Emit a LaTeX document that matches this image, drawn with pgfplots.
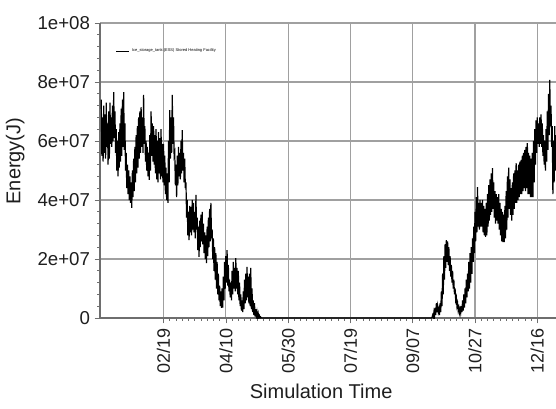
\documentclass[border=0pt]{standalone}
\usepackage{pgfplots}
\pgfplotsset{compat=1.18}
\usepackage{fontspec}
\setmainfont{Liberation Sans}
\definecolor{gridgray}{RGB}{160,160,160}
\definecolor{axisgray}{RGB}{110,110,110}
\definecolor{txt}{RGB}{30,30,30}
\begin{document}
\begin{tikzpicture}
\useasboundingbox (-75pt,-67.5pt) rectangle (342pt,238.5pt);
\begin{axis}[
    at={(0,0)}, anchor=south west,
    width=342pt, height=221.25pt, scale only axis,
    xmin=-1, xmax=365, ymin=0, ymax=10,
    axis lines=left,
    axis line style={-, draw=axisgray, line width=0.8pt},
    xtick={50,100,...,350},
    xticklabels={02/19,04/10,05/30,07/19,09/07,10/27,12/16},
    ytick={0,2,...,10},
    yticklabels={0,2e+07,4e+07,6e+07,8e+07,1e+08},
    x tick label style={rotate=90, anchor=east, font=\fontsize{13.5}{14}\selectfont, text=txt},
    y tick label style={font=\fontsize{14}{14}\selectfont, text=txt},
    tick align=outside,
    major tick length=4pt, minor tick length=2pt,
    minor x tick num=9, minor y tick num=4,
    tick style={axisgray, line width=0.5pt},
    grid=major,
    major grid style={gridgray, line width=0.9pt},
    xlabel={Simulation Time}, ylabel={Energy(J)},
    label style={font=\fontsize{15}{15}\selectfont, text=txt},
    xlabel style={at={(axis description cs:0.485,-0.25)}, anchor=center},
    ylabel style={at={(axis description cs:-0.186,0.532)}, anchor=center},
    legend style={at={(axis description cs:0.035,0.905)}, anchor=west, draw=none, fill=none,
        font=\fontsize{3}{3}\selectfont, inner sep=0pt},
    legend image code/.code={\draw[#1, line width=0.3pt] (0pt,0pt) -- (9.5pt,0pt);},
]
\addplot[black, line width=0.9pt] coordinates {
(0,7.4)(0.5,5.5)(1,6.8)(1.5,5.3)(2,7.2)(2.5,5.6)(3,6.9)(3.5,5.4)(4,7.3)(4.5,5.8)
(5,6.6)(5.5,5.2)(6,7.0)(6.5,5.4)(7,7.3)(7.5,5.9)(8,6.8)(8.5,5.8)(9,7.2)(9.5,6.0)
(10,7.66)(10.5,6.1)(11,7.0)(11.5,5.6)(12,6.4)(12.5,5.0)(13,6.0)(13.5,4.8)(14,6.3)(14.5,5.1)
(15,6.6)(15.5,5.3)(16,7.1)(16.5,5.5)(17,7.4)(17.5,5.8)(18,7.66)(18.5,5.7)(19,6.6)(19.5,5.0)
(20,5.6)(20.5,4.4)(21,5.2)(21.5,4.2)(22,5.0)(22.5,4.0)(23,4.8)(23.5,3.9)(24,4.6)(24.5,3.73)
(25,5.0)(25.5,4.1)(26,5.4)(26.5,4.3)(27,5.8)(27.5,4.6)(28,6.2)(28.5,4.9)(29,6.5)(29.5,5.1)
(30,6.8)(30.5,5.4)(31,7.0)(31.5,5.6)(32,7.15)(32.5,5.8)(33,6.8)(33.5,5.6)(34,7.56)(34.5,5.9)
(35,6.5)(35.5,5.3)(36,6.0)(36.5,5.0)(37,5.8)(37.5,4.8)(38,5.6)(38.5,4.68)(39,6.2)(39.5,5.0)
(40,7.0)(40.5,5.5)(41,6.6)(41.5,5.3)(42,6.5)(42.5,5.2)(43,6.2)(43.5,4.9)(44,6.4)(44.5,4.7)
(45,6.0)(45.5,4.6)(46,6.3)(46.5,4.9)(47,6.1)(47.5,4.7)(48,6.4)(48.5,4.8)(49,5.9)(49.5,4.6)
(50,5.9)(50.5,4.5)(51,5.5)(51.5,4.2)(52,5.1)(52.5,4.0)(53,4.9)(53.5,3.9)(54,6.0)(54.5,4.6)
(55,7.05)(55.5,5.4)(56,6.8)(56.5,5.6)(57,7.56)(57.5,5.9)(58,6.8)(58.5,5.5)(59,5.6)(59.5,4.5)
(60,5.2)(60.5,4.1)(61,5.5)(61.5,4.5)(62,5.8)(62.5,4.8)(63,5.6)(63.5,4.7)(64,6.0)(64.5,4.9)
(65,6.37)(65.5,5.0)(66,5.6)(66.5,4.6)(67,5.4)(67.5,4.4)(68,4.6)(68.5,3.4)(69,4.0)(69.5,2.8)
(70,3.6)(70.5,2.64)(71,3.8)(71.5,2.9)(72,3.76)(72.5,2.8)(73,4.0)(73.5,3.0)(74,3.9)(74.5,2.9)
(75,3.6)(75.5,2.7)(76,4.17)(76.5,3.0)(77,3.4)(77.5,2.3)(78,3.1)(78.5,2.07)(79,3.3)(79.5,2.4)
(80,3.5)(80.5,2.6)(81,3.6)(81.5,2.5)(82,3.2)(82.5,2.2)(83,2.9)(83.5,2.0)(84,2.8)(84.5,1.86)
(85,3.1)(85.5,2.1)(86,3.4)(86.5,2.4)(87,3.7)(87.5,2.6)(88,3.9)(88.5,2.7)(89,3.0)(89.5,2.0)
(90,2.7)(90.5,1.6)(91,2.4)(91.5,1.3)(92,2.2)(92.5,1.0)(93,1.9)(93.5,0.8)(94,1.5)(94.5,0.6)
(95,1.1)(95.5,0.4)(96,0.9)(96.5,0.34)(97,1.0)(97.5,0.35)(98,1.4)(98.5,0.6)(99,1.9)(99.5,1.0)
(100,2.1)(100.5,1.2)(101,2.3)(101.5,1.1)(102,1.8)(102.5,0.9)(103,1.3)(103.5,0.7)(104,1.2)(104.5,0.6)
(105,1.6)(105.5,0.8)(106,1.9)(106.5,1.0)(107,1.7)(107.5,0.9)(108,2.03)(108.5,1.0)(109,1.7)(109.5,0.8)
(110,1.6)(110.5,0.6)(111,1.2)(111.5,0.4)(112,0.8)(112.5,0.25)(113,0.6)(113.5,0.2)(114,0.9)(114.5,0.3)
(115,1.3)(115.5,0.5)(116,1.5)(116.5,0.6)(117,1.73)(117.5,0.7)(118,1.4)(118.5,0.5)(119,1.5)(119.5,0.4)
(120,1.7)(120.5,0.3)(121,1.0)(121.5,0.2)(122,0.6)(122.5,0.1)(123,0.5)(123.5,0.05)(124,0.3)(124.5,0.05)
(125,0.2)(125.5,0.02)(126,0.15)(126.5,0.02)(127,0.08)(127.5,0)(128,0.03)(128.5,0)
(265,0)(265.5,0.02)(266,0.1)(266.5,0.02)(267,0.2)(267.5,0.05)(268,0.35)(268.5,0.1)(269,0.5)(269.5,0.2)
(270,0.4)(270.5,0.2)(271,0.3)(271.5,0.1)(272,0.5)(272.5,0.2)(273,0.9)(273.5,0.4)(274,1.5)(274.5,0.8)
(275,2.1)(275.5,1.3)(276,2.5)(276.5,1.7)(277,2.64)(277.5,1.9)(278,2.6)(278.5,1.8)(279,2.4)(279.5,1.6)
(280,2.1)(280.5,1.4)(281,1.8)(281.5,1.2)(282,1.6)(282.5,1.0)(283,1.3)(283.5,0.8)(284,1.0)(284.5,0.6)
(285,0.7)(285.5,0.4)(286,0.5)(286.5,0.25)(287,0.35)(287.5,0.17)(288,0.3)(288.5,0.17)(289,0.4)(289.5,0.2)
(290,0.6)(290.5,0.25)(291,0.8)(291.5,0.35)(292,1.0)(292.5,0.5)(293,1.3)(293.5,0.7)(294,1.5)(294.5,0.9)
(295,1.9)(295.5,1.0)(296,2.2)(296.5,1.2)(297,2.4)(297.5,1.5)(298,2.7)(298.5,1.9)(299,3.1)(299.5,2.2)
(300,3.6)(300.5,2.6)(301,4.1)(301.5,2.9)(302,4.44)(302.5,3.1)(303,3.9)(303.5,3.0)(304,4.0)(304.5,3.1)
(305,3.9)(305.5,3.1)(306,4.0)(306.5,2.9)(307,3.8)(307.5,2.8)(308,3.7)(308.5,2.75)(309,3.9)(309.5,2.8)
(310,4.2)(310.5,3.1)(311,4.5)(311.5,3.3)(312,4.7)(312.5,3.5)(313,4.9)(313.5,3.6)(314,5.08)(314.5,3.7)
(315,4.6)(315.5,3.4)(316,4.3)(316.5,3.2)(317,4.2)(317.5,3.3)(318,4.1)(318.5,3.2)(319,4.2)(319.5,3.0)
(320,3.9)(320.5,2.8)(321,3.7)(321.5,2.6)(322,3.6)(322.5,2.57)(323,3.5)(323.5,2.57)(324,3.8)(324.5,2.7)
(325,4.3)(325.5,3.0)(326,4.8)(326.5,3.4)(327,5.1)(327.5,3.7)(328,4.7)(328.5,3.5)(329,4.4)(329.5,3.3)
(330,4.6)(330.5,3.5)(331,4.9)(331.5,3.7)(332,5.0)(332.5,3.9)(333,5.25)(333.5,3.9)(334,5.0)(334.5,4.0)
(335,5.2)(335.5,4.1)(336,5.3)(336.5,4.2)(337,5.36)(337.5,4.2)(338,5.5)(338.5,4.3)(339,5.6)(339.5,4.4)
(340,5.7)(340.5,4.3)(341,5.8)(341.5,4.4)(342,5.93)(342.5,4.2)(343,5.6)(343.5,4.2)(344,5.5)(344.5,4.1)
(345,5.4)(345.5,4.1)(346,5.6)(346.5,4.1)(347,6.0)(347.5,4.6)(348,6.4)(348.5,5.2)(349,6.7)(349.5,5.6)
(350,6.8)(350.5,5.9)(351,6.6)(351.5,5.8)(352,6.8)(352.5,5.9)(353,6.9)(353.5,5.8)(354,6.6)(354.5,5.5)
(355,6.2)(355.5,5.2)(356,6.0)(356.5,5.0)(357,6.4)(357.5,5.3)(358,7.0)(358.5,5.7)(359,7.6)(359.5,6.2)
(360,8.07)(360.5,6.5)(361,7.2)(361.5,5.8)(362,6.5)(362.5,4.2)(363,6.0)(363.5,4.6)(364,6.5)(364.5,5.0)
(365,6.2)
};
\addlegendentry{Ice\_storage\_tank:(ESS) Stored Heating Facility}
\end{axis}
\end{tikzpicture}
\end{document}
